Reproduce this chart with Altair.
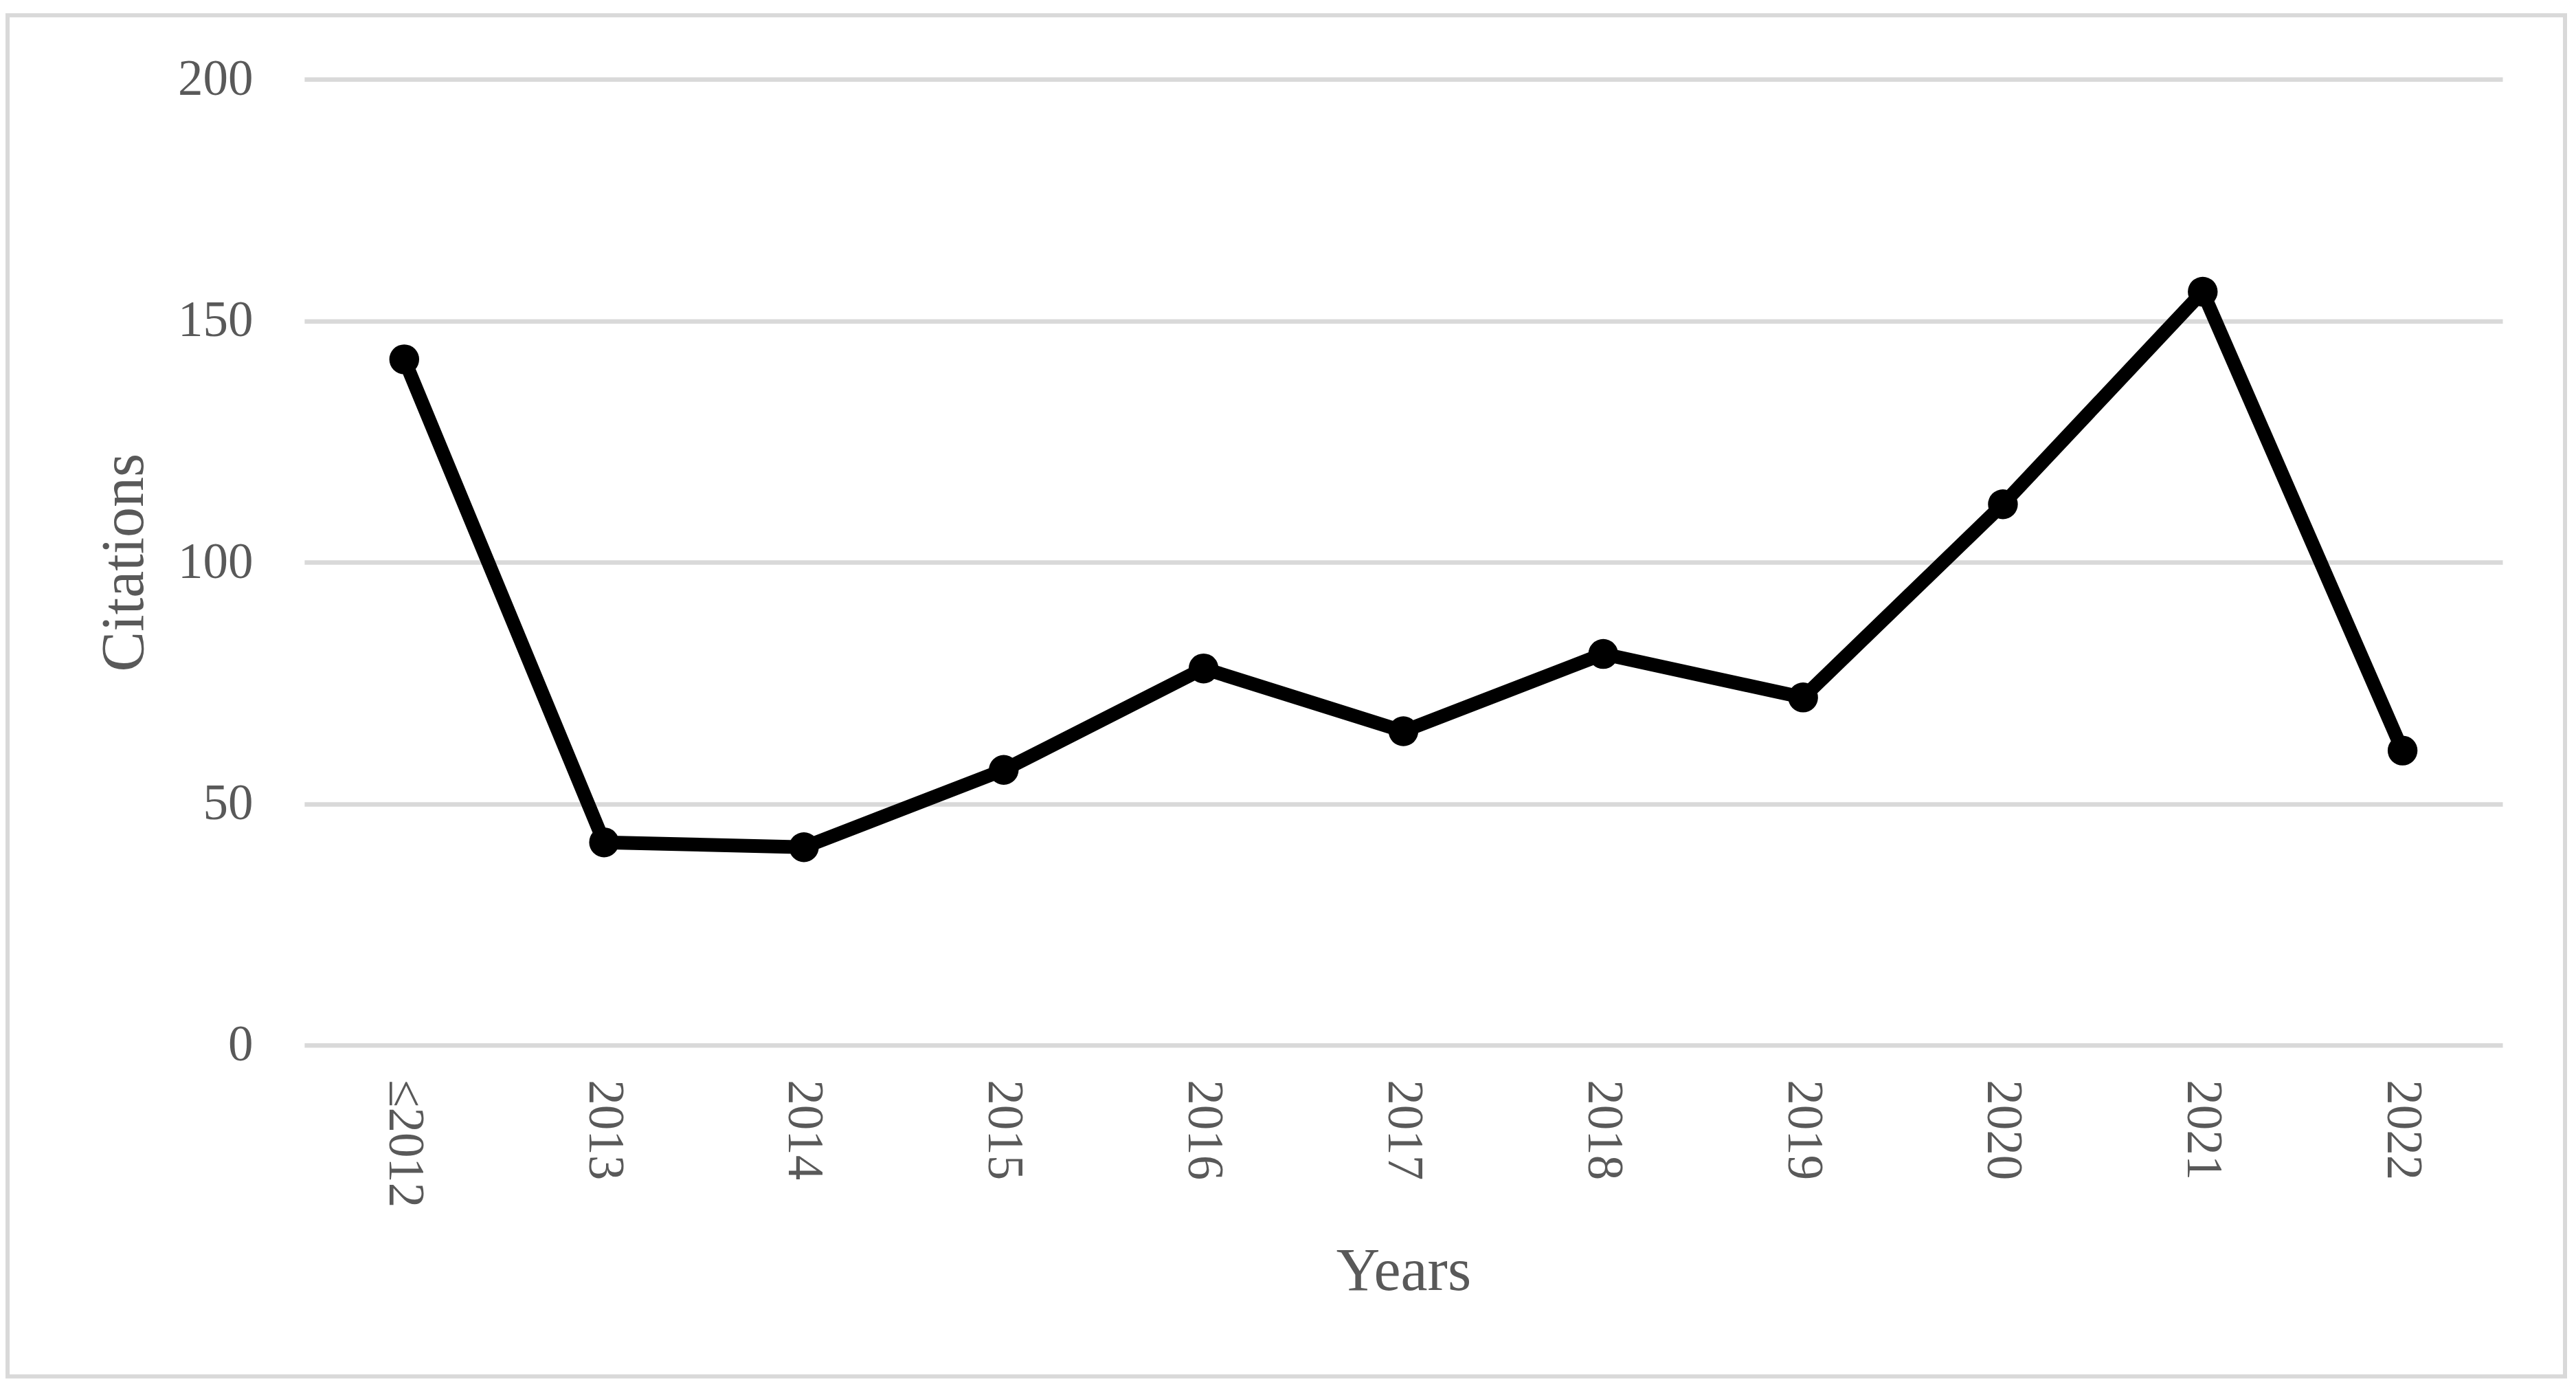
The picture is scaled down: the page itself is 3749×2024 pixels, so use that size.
import altair as alt
import pandas as pd

# ---- data ----
years = ["≤2012", "2013", "2014", "2015", "2016", "2017", "2018", "2019", "2020", "2021", "2022"]
citations = [142, 42, 41, 57, 78, 65, 81, 72, 112, 156, 61]
y_ticks = [0, 50, 100, 150, 200]

df = pd.DataFrame({"Year": years, "Citations": citations})

FONT = "Liberation Serif"
TEXT = "#595959"
GRID = "#d9d9d9"
W, H = 3200, 1406

x_enc = alt.X(
    "Year:N",
    sort=years,
    scale=alt.Scale(type="point", padding=0.5),
    axis=alt.Axis(
        title="Years",
        labelAngle=90,
        labelAlign="left",
        labelBaseline="middle",
        labelPadding=50,
        labelLimit=1000,
        labelFont=FONT,
        labelFontSize=73,
        labelColor=TEXT,
        ticks=False,
        tickSize=0,
        domain=False,
        grid=False,
        titleFont=FONT,
        titleFontSize=88,
        titleFontWeight="normal",
        titleColor=TEXT,
        titleX=W / 2,
        titleY=356,
        titleAlign="center",
        titleBaseline="alphabetic",
    ),
)
y_enc = alt.Y(
    "Citations:Q",
    scale=alt.Scale(domain=[0, 200], nice=False, zero=True),
    axis=alt.Axis(
        title="Citations",
        values=y_ticks,
        labelPadding=75,
        labelLimit=1000,
        labelFont=FONT,
        labelFontSize=73,
        labelColor=TEXT,
        labelBaseline="middle",
        ticks=False,
        tickSize=0,
        domain=False,
        grid=True,
        gridColor=GRID,
        gridWidth=6.5,
        titleFont=FONT,
        titleFontSize=88,
        titleFontWeight="normal",
        titleColor=TEXT,
        titleAngle=270,
        titleX=-235,
        titleY=H / 2,
        titleAlign="center",
        titleBaseline="alphabetic",
    ),
)

base = alt.Chart(df).encode(x=x_enc, y=y_enc)
line = base.mark_line(color="black", strokeWidth=20, strokeJoin="round")
points = base.mark_circle(color="black", size=1886, opacity=1)

frame = alt.Chart(pd.DataFrame({"k": [0]})).mark_rect(
    fillOpacity=0, stroke=GRID, strokeWidth=6, clip=False
).encode(
    x=alt.value(-432), x2=alt.value(3291), y=alt.value(-93), y2=alt.value(1888)
)

chart = (
    alt.layer(frame, line, points)
    .properties(
        width=W,
        height=H,
        padding={"left": 0, "top": 11, "right": 5, "bottom": 8},
        background="white",
    )
    .configure_view(stroke=None)
)

chart.save("out.html", embed_options={"renderer": "svg", "actions": False})
